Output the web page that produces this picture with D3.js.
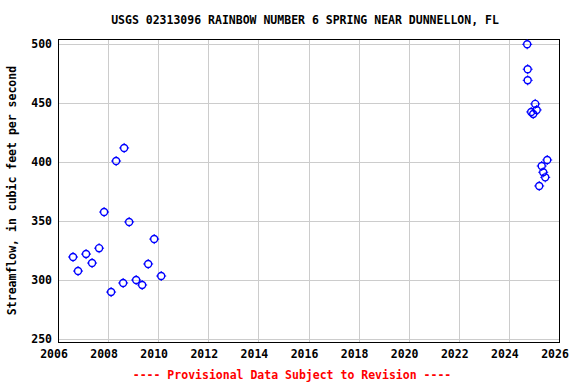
<!DOCTYPE html>
<html><head><meta charset="utf-8">
<script src="https://cdn.jsdelivr.net/npm/d3@7"></script>
<style>body{margin:0;background:#fff}svg{display:block}</style>
</head><body>
<script>
const titleText = "USGS 02313096 RAINBOW NUMBER 6 SPRING NEAR DUNNELLON, FL";
const yLabel = "Streamflow, in cubic feet per second";
const footer = "---- Provisional Data Subject to Revision ----";
const years = [2006.60,2006.80,2007.12,2007.36,2007.64,2007.84,2008.12,2008.32,2008.60,2008.64,2008.84,2009.12,2009.36,2009.60,2009.84,2010.12,
  2024.73,2024.75,2024.75,2025.05,2024.89,2024.97,2025.11,2025.53,2025.31,2025.37,2025.45,2025.21];
const flows = [319.5,307.6,322,314.4,327,357.6,289.8,400.8,297.5,411.9,349.2,300,295.8,313.6,334.7,303.4,
  499.7,478.6,469.2,449.2,442.4,440.7,444.1,401.7,396.6,391.3,387,379.7];
const xTicks = [2006,2008,2010,2012,2014,2016,2018,2020,2022,2024,2026];
const yTicks = [250,300,350,400,450,500];

const W=576,H=384, L=58, R=559, T=39, B=342;
const svg = d3.select("body").append("svg").attr("width",W).attr("height",H);
const x = d3.scaleLinear().domain([2006,2026]).range([L,R]);
const y = d3.scaleLinear().domain([247.5,504.2]).range([B,T]);
const font = "'DejaVu Sans Mono', monospace";

// grid
svg.append("g").selectAll("line").data(xTicks.slice(1,-1)).join("line")
  .attr("x1",d=>Math.round(x(d))+0.5).attr("x2",d=>Math.round(x(d))+0.5)
  .attr("y1",T).attr("y2",B).attr("stroke","#cccccc").attr("stroke-width",1);
svg.append("g").selectAll("line").data(yTicks).join("line")
  .attr("y1",d=>Math.round(y(d))+0.5).attr("y2",d=>Math.round(y(d))+0.5)
  .attr("x1",L).attr("x2",R).attr("stroke","#cccccc").attr("stroke-width",1);

// border
svg.append("rect").attr("x",L+0.5).attr("y",T+0.5).attr("width",R-L).attr("height",B-T)
  .attr("fill","none").attr("stroke","#000").attr("stroke-width",1);

// axis labels
svg.append("g").selectAll("text").data(xTicks).join("text")
  .attr("x",d=>x(d)-4).attr("y",B+16).attr("text-anchor","middle")
  .attr("font-family",font).attr("font-weight","bold").attr("font-size","11.5px").text(d=>d);
svg.append("g").selectAll("text").data(yTicks).join("text")
  .attr("x",L-6).attr("y",d=>y(d)+4).attr("text-anchor","end")
  .attr("font-family",font).attr("font-weight","bold").attr("font-size","11.5px").text(d=>d);

svg.append("text").attr("x",305).attr("y",24).attr("text-anchor","middle")
  .attr("font-family",font).attr("font-weight","bold").attr("font-size","11.5px").text(titleText);
svg.append("text").attr("transform",`translate(16,${(T+B)/2}) rotate(-90)`).attr("text-anchor","middle")
  .attr("font-family",font).attr("font-weight","bold").attr("font-size","11.5px").text(yLabel);
svg.append("text").attr("x",292).attr("y",379).attr("text-anchor","middle")
  .attr("font-family",font).attr("font-weight","bold").attr("font-size","11.5px").attr("fill","#ff0000").text(footer);

// points
const data = years.map((d,i)=>({yr:d,v:flows[i]}));
const pts = svg.append("g").selectAll("g").data(data).join("g")
  .attr("transform",d=>`translate(${x(d.yr)},${y(d.v)})`);
pts.append("circle").attr("r",3.5).attr("fill","none").attr("stroke","#0000ff").attr("stroke-width",1.4);
pts.append("path").attr("d","M0,-5V-3.5M0,3.5V5M-5,0H-3.5M3.5,0H5").attr("stroke","#0000ff").attr("stroke-width",1);
</script>
</body></html>
